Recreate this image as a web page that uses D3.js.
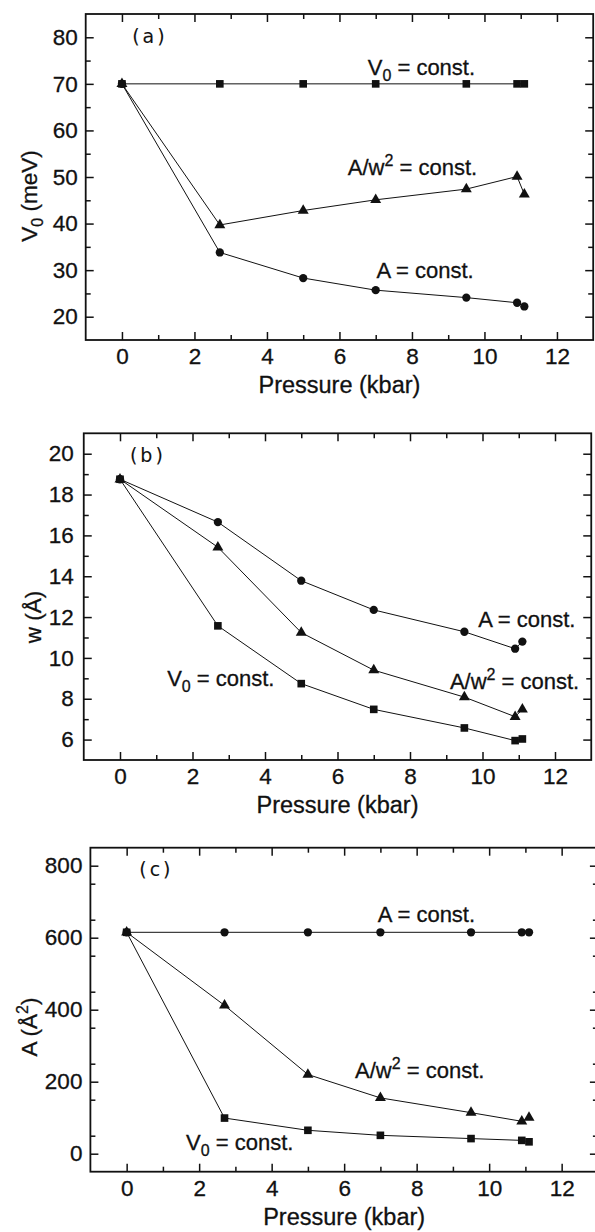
<!DOCTYPE html>
<html><head><meta charset="utf-8">
<script src="https://cdn.jsdelivr.net/npm/d3@7"></script>
<style>
body{margin:0;background:#fff}
svg{display:block}
text{font-family:"Liberation Sans",Arial,Helvetica,sans-serif;fill:#111;stroke:#111;stroke-width:0.3px}
</style>
</head><body>
<svg id="chart" width="595" height="1232"></svg>
<script>
// ---------- data ----------
const pressure = [0, 2.7, 5, 7, 9.5, 10.9, 11.1];

const aV0const  = [70, 70, 70, 70, 70, 70, 70];
const aAw2const = [70, 39.7, 42.8, 45.1, 47.4, 50.1, 46.3];
const aAconst   = [70, 33.8, 28.3, 25.7, 24.1, 23.0, 22.2];

const bV0const  = [18.75, 11.57, 8.74, 7.48, 6.57, 5.95, 6.03];
const bAw2const = [18.75, 15.42, 11.24, 9.4, 8.08, 7.12, 7.48];
const bAconst   = [18.75, 16.65, 13.78, 12.35, 11.28, 10.45, 10.8];

const cV0const  = [615, 99, 65, 51, 42, 37, 33];
const cAw2const = [615, 412, 220, 155, 114, 90, 100];
const cAconst   = [615, 615, 615, 615, 615, 615, 615];

const xTickLabels = [0, 2, 4, 6, 8, 10, 12];
const aYTickLabels = [20, 30, 40, 50, 60, 70, 80];
const bYTickLabels = [6, 8, 10, 12, 14, 16, 18, 20];
const cYTickLabels = [0, 200, 400, 600, 800];

// ---------- layout ----------
const svg = d3.select("#chart");
const PXU = 36.25; // px per kbar

const panels = [
  {label:"(a)", left:85.7, top:14, bottom:340, yDomain:[15,85], yTicks:aYTickLabels, yMinor:5, yPad:8,
   series:[{v:aV0const,s:"square"},{v:aAw2const,s:"triangle"},{v:aAconst,s:"circle"}],
   labelPos:[0.77,78.8],
   notes:[{t:"V0",x:6.78,y:71.9},{t:"Aw2",x:6.23,y:50.43},{t:"A",x:7.02,y:28.3}],
   ytitle:{kind:"V0", x:37, y:196}},
  {label:"(b)", left:83.75, top:433.3, bottom:760, yDomain:[5,21], yTicks:bYTickLabels, yMinor:1, yPad:10,
   series:[{v:bV0const,s:"square"},{v:bAw2const,s:"triangle"},{v:bAconst,s:"circle"}],
   labelPos:[0.77,19.6],
   notes:[{t:"A",x:9.88,y:11.5},{t:"Aw2",x:9.10,y:8.46},{t:"V0",x:1.30,y:8.6}],
   ytitle:{kind:"w", x:41, y:617}},
  {label:"(c)", left:90.4, top:847.7, bottom:1171.7, yDomain:[-50,850], yTicks:cYTickLabels, yMinor:100, yPad:8,
   series:[{v:cV0const,s:"square"},{v:cAw2const,s:"triangle"},{v:cAconst,s:"circle"}],
   labelPos:[0.82,771],
   notes:[{t:"A",x:6.93,y:644},{t:"Aw2",x:6.30,y:209},{t:"V0",x:1.64,y:9}],
   ytitle:{kind:"A", x:37, y:1027}}
];

const symbolType = {square:d3.symbolSquare, triangle:d3.symbolTriangle, circle:d3.symbolCircle};
const symbolSize = {square:58, triangle:52, circle:54};

function addNote(g, kind, x, y) {
  const t = g.append("text").attr("x", x).attr("y", y).attr("font-size", 22);
  if (kind === "V0") {
    t.append("tspan").text("V");
    t.append("tspan").attr("font-size", 16).attr("dy", 6).text("0");
    t.append("tspan").attr("dy", -6).text(" = const.");
  } else if (kind === "Aw2") {
    t.append("tspan").text("A/w");
    t.append("tspan").attr("font-size", 16).attr("dy", -9).text("2");
    t.append("tspan").attr("dy", 9).text(" = const.");
  } else {
    t.append("tspan").text("A = const.");
  }
}

panels.forEach(p => {
  const right = p.left + 14 * PXU;
  const x = d3.scaleLinear().domain([-1, 13]).range([p.left, right]);
  const y = d3.scaleLinear().domain(p.yDomain).range([p.bottom, p.top]);
  const g = svg.append("g");
  const h = p.bottom - p.top, w = right - p.left;

  const xMajor = d3.range(0, 13, 2);
  const xMinor = d3.range(-1, 14, 1).filter(v => v % 2 !== 0 && v > -1 && v < 13);
  const yMajor = p.yTicks;
  const yMinor = d3.range(p.yDomain[0], p.yDomain[1] + 1e-9, p.yMinor)
      .filter(v => !yMajor.includes(v) && v > p.yDomain[0] && v < p.yDomain[1]);

  g.append("g").attr("transform", `translate(0,${p.bottom})`)
    .call(d3.axisBottom(x).tickValues(xTickLabels).tickSizeInner(-8).tickSizeOuter(0).tickPadding(8).tickFormat(d3.format("d")));
  g.append("g").attr("transform", `translate(0,${p.bottom})`)
    .call(d3.axisBottom(x).tickValues(xMinor).tickSizeInner(-5).tickSizeOuter(0).tickFormat(""));
  g.append("g").attr("transform", `translate(0,${p.top})`)
    .call(d3.axisTop(x).tickValues(xMajor).tickSizeInner(-8).tickSizeOuter(0).tickFormat(""));
  g.append("g").attr("transform", `translate(0,${p.top})`)
    .call(d3.axisTop(x).tickValues(xMinor).tickSizeInner(-5).tickSizeOuter(0).tickFormat(""));
  g.append("g").attr("transform", `translate(${p.left},0)`)
    .call(d3.axisLeft(y).tickValues(yMajor).tickSizeInner(-8).tickSizeOuter(0).tickPadding(p.yPad).tickFormat(d3.format("d")));
  g.append("g").attr("transform", `translate(${p.left},0)`)
    .call(d3.axisLeft(y).tickValues(yMinor).tickSizeInner(-5).tickSizeOuter(0).tickFormat(""));
  g.append("g").attr("transform", `translate(${right},0)`)
    .call(d3.axisRight(y).tickValues(yMajor).tickSizeInner(-8).tickSizeOuter(0).tickFormat(""));
  g.append("g").attr("transform", `translate(${right},0)`)
    .call(d3.axisRight(y).tickValues(yMinor).tickSizeInner(-5).tickSizeOuter(0).tickFormat(""));

  g.selectAll(".domain").remove();
  g.selectAll(".tick line").attr("stroke", "#111").attr("stroke-width", 1.5);
  g.selectAll(".tick text").attr("font-size", 22.5).attr("fill", "#111")
    .style("font-family", '"Liberation Sans",Arial,sans-serif');

  g.append("rect").attr("x", p.left).attr("y", p.top).attr("width", w).attr("height", h)
    .attr("fill", "none").attr("stroke", "#111").attr("stroke-width", 1.8);

  const line = d3.line().x((d, i) => x(pressure[i])).y(d => y(d));
  p.series.forEach(s => {
    g.append("path").datum(s.v).attr("d", line)
      .attr("fill", "none").attr("stroke", "#111").attr("stroke-width", 1);
  });
  p.series.forEach(s => {
    g.selectAll(null).data(s.v).join("path")
      .attr("transform", (d, i) => `translate(${x(pressure[i])},${y(d)})`)
      .attr("d", d3.symbol().type(symbolType[s.s]).size(symbolSize[s.s]))
      .attr("fill", "#111");
  });

  p.notes.forEach(n => addNote(g, n.t, x(n.x), y(n.y)));

  g.append("text").attr("x", x(p.labelPos[0])).attr("y", y(p.labelPos[1]))
    .attr("text-anchor", "middle").attr("font-size", 19).attr("letter-spacing", 3)
    .style("font-family", '"DejaVu Sans",sans-serif').style("stroke-width", "0.1px")
    .text(p.label);

  g.append("text").attr("x", (p.left + right) / 2).attr("y", p.bottom + 53)
    .attr("text-anchor", "middle").attr("font-size", 23.5).text("Pressure (kbar)");

  const yt = g.append("text").attr("transform", `translate(${p.ytitle.x},${p.ytitle.y}) rotate(-90)`)
    .attr("text-anchor", "middle").attr("font-size", 22.5);
  if (p.ytitle.kind === "V0") {
    yt.append("tspan").text("V");
    yt.append("tspan").attr("font-size", 16).attr("dy", 6).text("0");
    yt.append("tspan").attr("dy", -6).text(" (meV)");
  } else if (p.ytitle.kind === "w") {
    yt.append("tspan").text("w (Å)");
  } else {
    yt.append("tspan").text("A (Å");
    yt.append("tspan").attr("font-size", 16).attr("dy", -9).text("2");
    yt.append("tspan").attr("dy", 9).text(")");
  }
});
</script>
</body></html>
